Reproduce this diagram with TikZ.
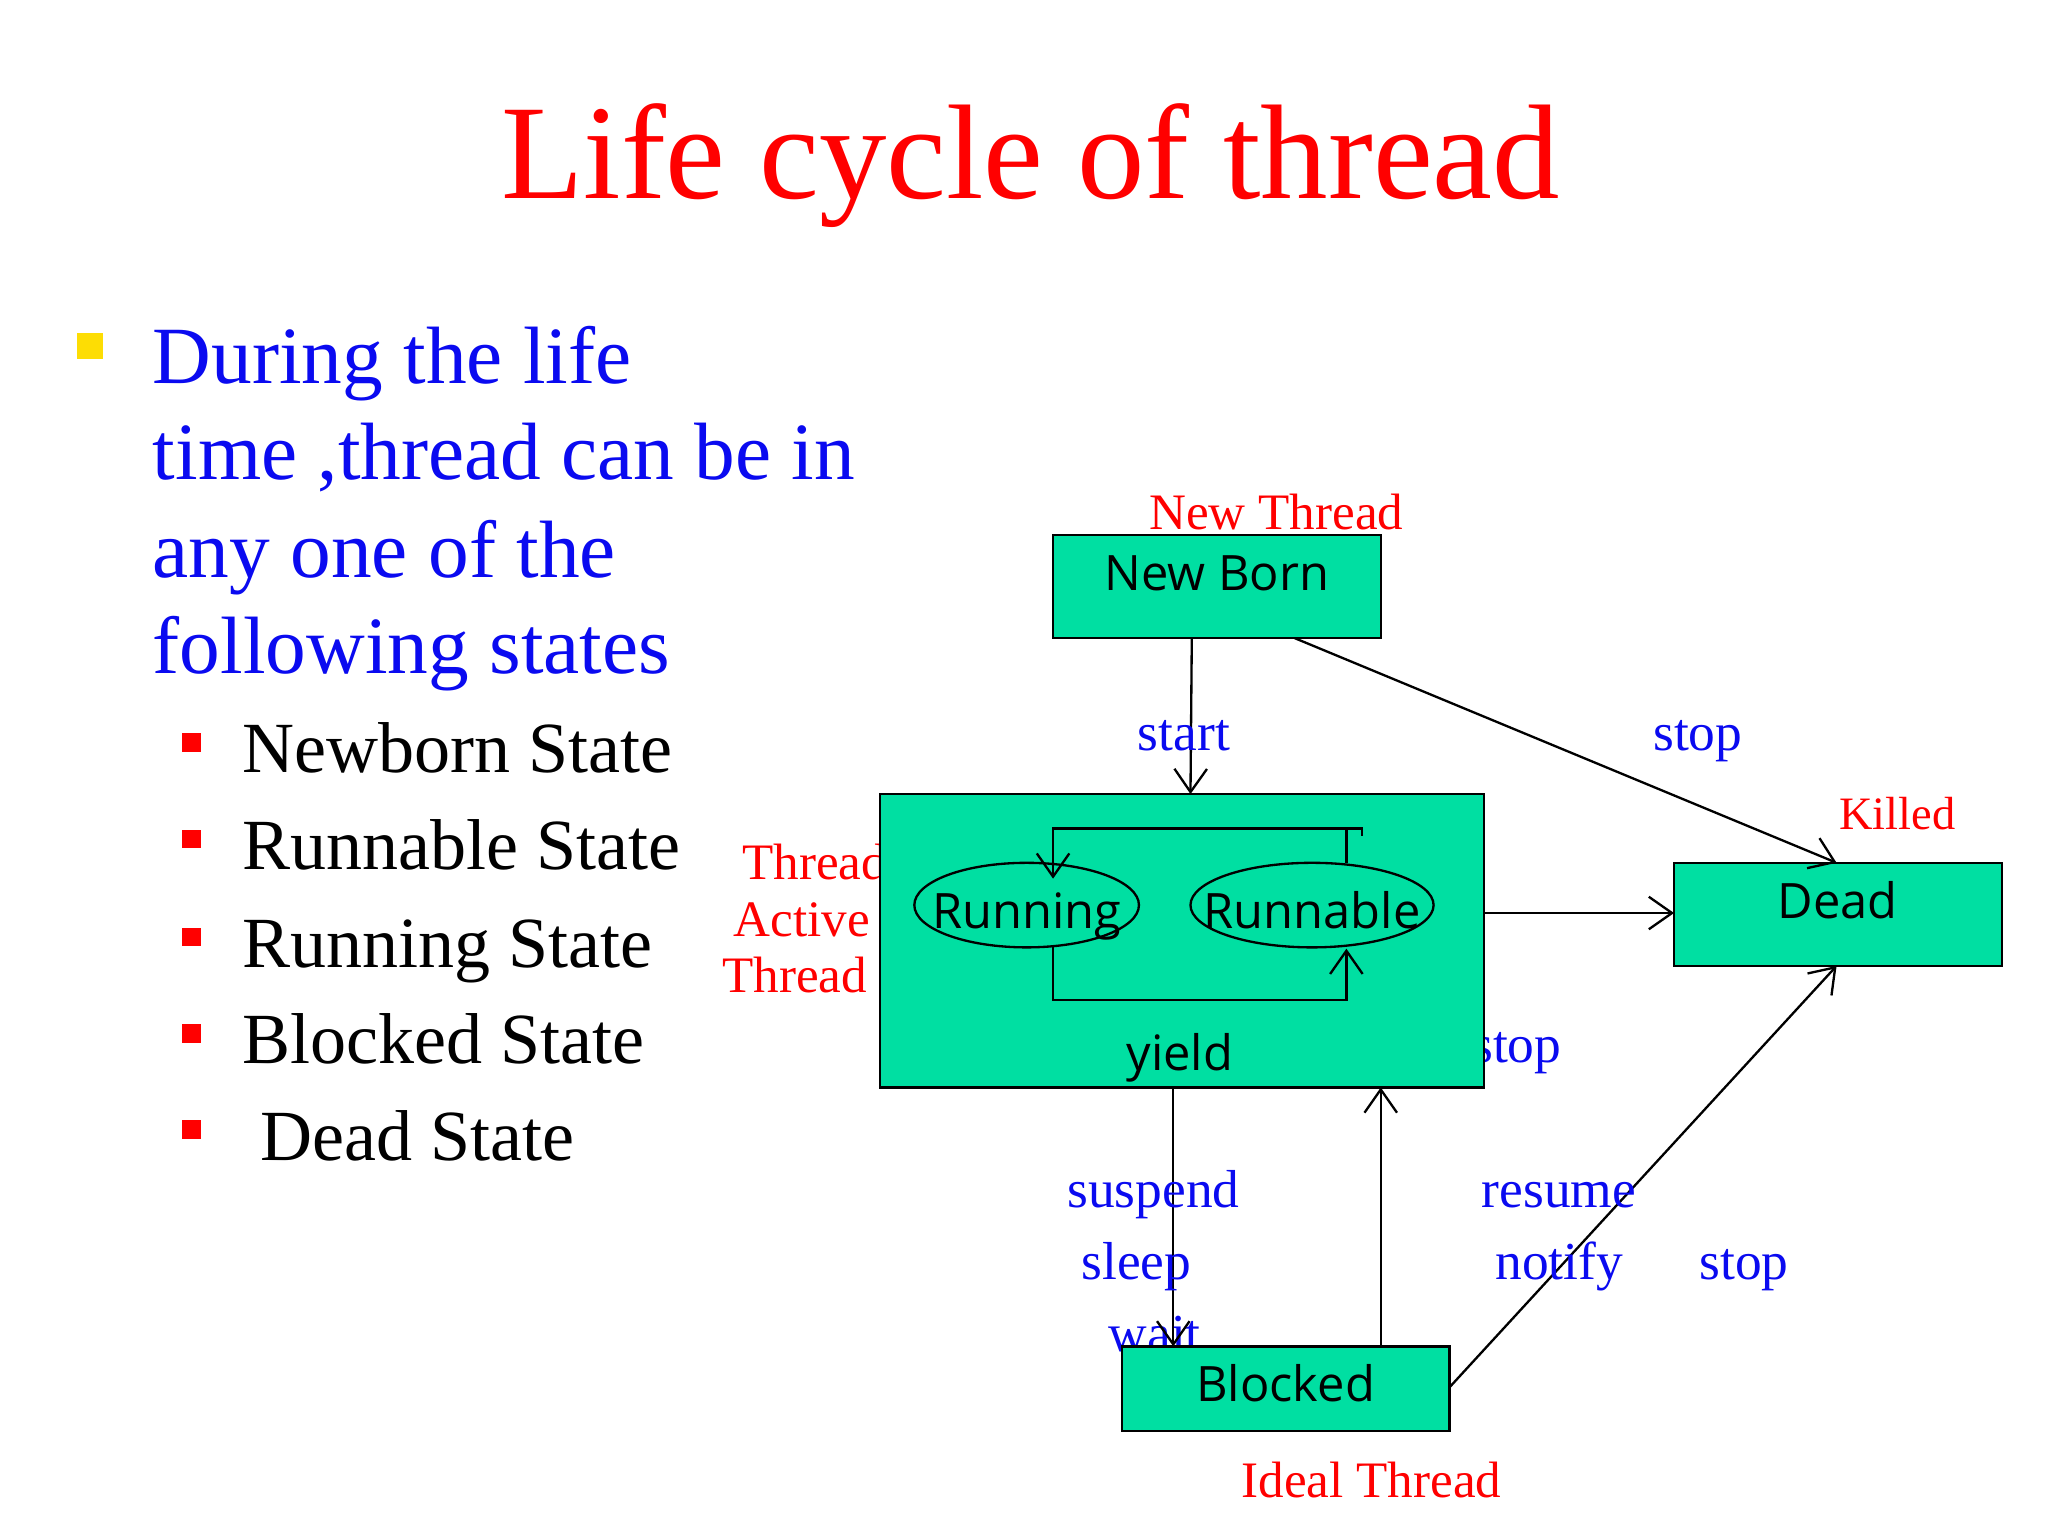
\documentclass[tikz,border=0pt]{standalone}
\usepackage{fontspec}
\setmainfont{Liberation Serif}
\newfontfamily\boxfont{Open Sans}
\usetikzlibrary{arrows.meta}
\definecolor{boxgreen}{RGB}{0,223,162}
\definecolor{txtblue}{RGB}{10,10,240}
\tikzset{
  stbox/.style={draw=black,fill=boxgreen,line width=0.5pt},
  arr/.style={draw,line width=0.5pt,-{Straight Barb[length=5pt,width=7pt]}},
  ln/.style={draw,line width=0.5pt},
  lbl/.style={text=txtblue,font=\fontsize{11.5}{12}\selectfont,anchor=base},
  rlbl/.style={text=red,font=\fontsize{11}{12}\selectfont,anchor=base},
  bxt/.style={font=\boxfont\fontsize{10.5}{12}\selectfont,anchor=base},
}
\begin{document}
\begin{tikzpicture}[x=0.01cm,y=-0.01cm]
\useasboundingbox (0,0) rectangle (1550,1162.5);
\fill[white] (0,0) rectangle (1550,1162.5);
% title
\node[text=red,font=\fontsize{29}{30}\selectfont,anchor=base] (title) at (780,150) {Life cycle of thread};
% bullets
\fill[yellow!80!orange] (58,252) rectangle (78,272);
\node[text=txtblue,font=\fontsize{17.5}{21}\selectfont,anchor=base west,inner sep=0] (l1) at (115,290) {During the life};
\node[text=txtblue,font=\fontsize{17.5}{21}\selectfont,anchor=base west,inner sep=0] (l2) at (115,363) {time ,thread can be in};
\node[text=txtblue,font=\fontsize{17.5}{21}\selectfont,anchor=base west,inner sep=0] (l3) at (115,437) {any one of the};
\node[text=txtblue,font=\fontsize{17.5}{21}\selectfont,anchor=base west,inner sep=0] (l4) at (115,510) {following states};
\foreach \y/\t [count=\i] in {585/Newborn State,658/Runnable State,732/Running State,805/Blocked State,878/{\ Dead State}}{
  \fill[red] (138,\y-30) rectangle (152,\y-16);
  \node[font=\fontsize{15.5}{18}\selectfont,anchor=base west,inner sep=0] (s\i) at (183,\y) {\t};
}
% labels drawn before boxes (partly covered)
\node[rlbl,anchor=base east,inner sep=0] (ta1) at (672,666) {Thread};
\node[rlbl,anchor=base east,inner sep=0] (ta2) at (659,709) {Active};
\node[rlbl,anchor=base east,inner sep=0] (ta3) at (657,751) {Thread};
\node[lbl] (stop3) at (1148,804) {stop};
\node[lbl] (wait) at (874,1023) {wait};
% boxes
\path[stbox] (797,405) rectangle (1045,483);
\node[bxt] (nb) at (921,447) {New Born};
\coordinate (nbA) at (902,483);
\coordinate (nbB) at (980,483);
\path[stbox] (666,601) rectangle (1123,823);
\path[stbox] (1267,653) rectangle (1515,731);
\node[bxt] (dead) at (1391,695) {Dead};
\path[stbox] (849,1019) rectangle (1097,1083);
\node[bxt] (blk) at (973,1061) {Blocked};
\coordinate (actTop) at (901,601);
\coordinate (actR) at (1123,691);
\coordinate (deadL) at (1267,691);
\coordinate (deadT) at (1390,653);
\coordinate (deadB) at (1390,731);
\coordinate (actB1) at (888,823);
\coordinate (blkT1) at (888,1019);
\coordinate (blkT2) at (1045,1019);
\coordinate (actB2) at (1045,823);
\coordinate (blkR) at (1097,1050);
% ellipses
\draw[line width=0.5pt] (777,685) ellipse [x radius=85,y radius=32];
\node[bxt] (run) at (777,703) {Running};
\draw[line width=0.5pt] (993,685) ellipse [x radius=92,y radius=32];
\node[bxt] (rnb) at (993,703) {Runnable};
\node[bxt] (yield) at (893,810) {yield};
% inner loop
\draw[arr] (1019,653) -- (1019,627) -- (797,627) -- (797,665);
\draw[ln] (1019,627) -- (1031,627) -- (1031,633);
\draw[arr] (797,717) -- (797,757) -- (1019,757) -- (1019,718);
% connectors
\draw[arr] (nbA) -- (actTop);
\draw[arr] (nbB) -- (deadT);
\draw[arr] (actR) -- (deadL);
\draw[arr] (actB1) -- (blkT1);
\draw[arr] (blkT2) -- (actB2);
\draw[arr] (blkR) -- (deadB);
% labels
\node[rlbl] (newt) at (966,401) {New Thread};
\node[lbl] (start) at (896,568) {start};
\node[lbl] (stop1) at (1285,568) {stop};
\node[rlbl,font=\fontsize{10}{12}\selectfont] (killed) at (1436,628) {Killed};
\node[lbl] (susp) at (873,914) {suspend};
\node[lbl] (sleep) at (860,968) {sleep};
\node[lbl] (res) at (1180,914) {resume};
\node[lbl] (notify) at (1180,968) {notify};
\node[lbl] (stop2) at (1320,968) {stop};
\node[rlbl] (ideal) at (1038,1133) {Ideal Thread};
\end{tikzpicture}
\end{document}
